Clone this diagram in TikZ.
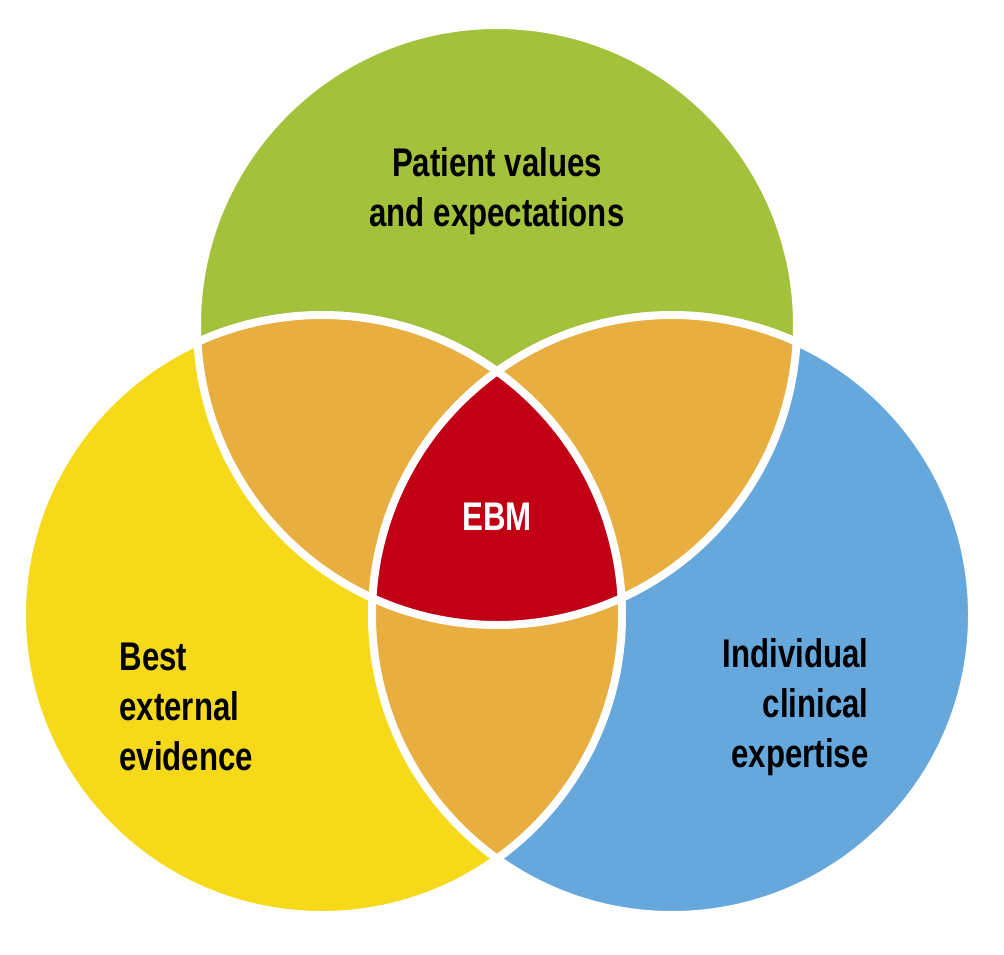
\documentclass[tikz,border=0pt]{standalone}
\usepackage{fontspec}
\setsansfont[FakeStretch=0.78]{Liberation Sans}
\definecolor{patientgreen}{HTML}{A3C13B}
\definecolor{evidyellow}{HTML}{F6DA1A}
\definecolor{expertblue}{HTML}{66A8DC}
\definecolor{overlaporange}{HTML}{E8AE40}
\definecolor{ebmred}{HTML}{C10016}
\tikzset{
  lbl/.style={font=\sffamily\bfseries\fontsize{40}{50}\selectfont, text=black},
  rim/.style={draw=white, line width=8pt}
}
\begin{document}
\begin{tikzpicture}[x=1pt,y=-1pt]
        \useasboundingbox (0,0) rectangle (1004,955);
        % circles
        \coordinate (top) at (497,325);
        \coordinate (left) at (322,615);
        \coordinate (right) at (672,615);
        \fill[patientgreen] (top) circle (300);
        \fill[evidyellow] (left) circle (300);
        \fill[expertblue] (right) circle (300);
        % overlaps
        \begin{scope}
            \clip (top) circle (300);
            \fill[overlaporange] (left) circle (300);
            \fill[overlaporange] (right) circle (300);
        \end{scope}
        \begin{scope}
            \clip (left) circle (300);
            \fill[overlaporange] (right) circle (300);
            \clip (right) circle (300);
            \fill[ebmred] (top) circle (300);
        \end{scope}
        \draw[rim] (top) circle (300);
        \draw[rim] (left) circle (300);
        \draw[rim] (right) circle (300);
        % labels
        \node[lbl, align=center] (pv) at (497,191) {Patient values\\and expectations};
        \node[lbl, align=left, anchor=west] (be) at (116,707) {Best\\external\\evidence};
        \node[lbl, align=right, anchor=east] (ic) at (872,707) {Individual\\clinical\\expertise};
        \node[lbl, text=white] (ebm) at (497,517) {EBM};
\end{tikzpicture}
\end{document}
